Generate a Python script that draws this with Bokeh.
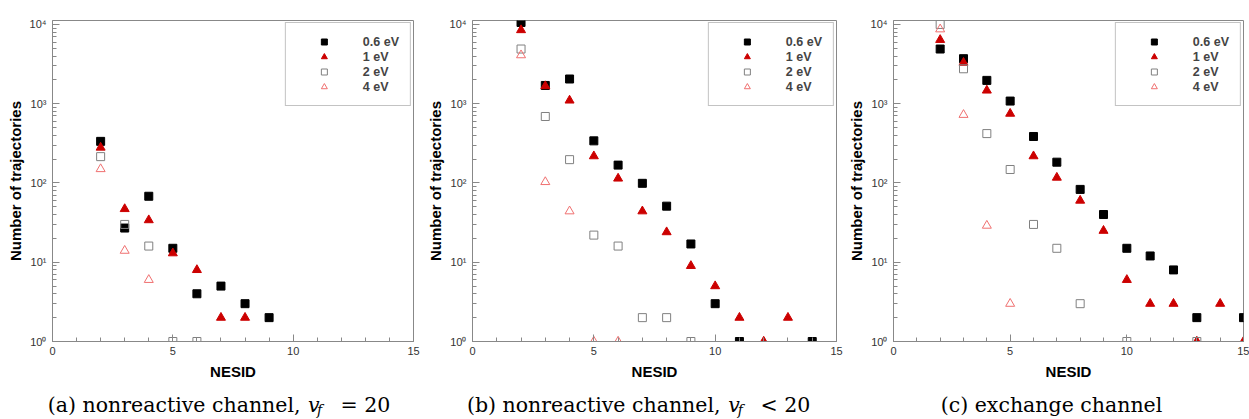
from bokeh.plotting import figure
from bokeh.layouts import row, column
from bokeh.models import (Range1d, FixedTicker, SingleIntervalTicker,
                          CustomJSTickFormatter, Label)
from bokeh.embed import file_html
from bokeh.resources import INLINE

# ---------------- data ----------------
series_labels = ["0.6 eV", "1 eV", "2 eV", "4 eV"]
y_tick_values = [1, 10, 100, 1000, 10000]
y_tick_labels = ["10\u2070", "10\u00b9", "10\u00b2", "10\u00b3", "10\u2074"]
x_label = "NESID"
y_label = "Number of trajectories"

# (a) nonreactive channel, v_f = 20
a_x_06 = [2, 3, 4, 5, 6, 7, 8, 9]
a_y_06 = [335, 27, 68, 15, 4, 5, 3, 2]
a_x_1 = [2, 3, 4, 5, 6, 7, 8]
a_y_1 = [280, 47, 34, 13, 8, 2, 2]
a_x_2 = [2, 3, 4, 5, 6]
a_y_2 = [215, 30, 16, 1, 1]
a_x_4 = [2, 3, 4]
a_y_4 = [150, 14, 6]

# (b) nonreactive channel, v_f < 20
b_x_06 = [2, 3, 4, 5, 6, 7, 8, 9, 10, 11, 14]
b_y_06 = [10600, 1700, 2050, 340, 168, 99, 51, 17, 3, 1, 1]
b_x_1 = [2, 3, 4, 5, 6, 7, 8, 9, 10, 11, 12, 13]
b_y_1 = [8500, 1670, 1100, 218, 114, 44, 24, 9, 5, 2, 1, 2]
b_x_2 = [2, 3, 4, 5, 6, 7, 8, 9]
b_y_2 = [4900, 690, 197, 22, 16, 2, 2, 1]
b_x_4 = [2, 3, 4, 5, 6]
b_y_4 = [4100, 103, 44, 1, 1]

# (c) exchange channel
c_x_06 = [2, 3, 4, 5, 6, 7, 8, 9, 10, 11, 12, 13, 15]
c_y_06 = [4900, 3700, 1970, 1080, 386, 183, 83, 40, 15, 12, 8, 2, 2]
c_x_1 = [2, 3, 4, 5, 6, 7, 8, 9, 10, 11, 12, 13, 14, 15]
c_y_1 = [6400, 3300, 1470, 750, 218, 117, 60, 25, 6, 3, 3, 1, 3, 1]
c_x_2 = [2, 3, 4, 5, 6, 7, 8, 10, 13]
c_y_2 = [10000, 2760, 420, 148, 30, 15, 3, 1, 1]
c_x_4 = [2, 3, 4, 5]
c_y_4 = [8700, 725, 29, 3]

caption_a = ["(a) nonreactive channel,", "v", "f", "= 20"]
caption_b = ["(b) nonreactive channel,", "v", "f", "< 20"]
caption_c = ["(c) exchange channel"]

# ---------------- styles ----------------
STYLES = [
    dict(marker="square", size=8, fill_color="black", line_color="black"),
    dict(marker="triangle", size=9, fill_color="#cc0000", line_color="#cc0000"),
    dict(marker="square", size=8, fill_color=None, line_color="#808080"),
    dict(marker="triangle", size=9, fill_color=None, line_color="#f07070"),
]
AXIS_GRAY = "#888888"
SANS = "Liberation Sans"
SERIF = "DejaVu Serif"
PANEL_H = 389
STRIP_H = 30

minor = [m * 10 ** k for k in range(0, 5) for m in range(2, 10)]

fmt = CustomJSTickFormatter(args=dict(vals=y_tick_values, labs=y_tick_labels), code="""
    for (let i = 0; i < vals.length; i++) {
        if (Math.abs(tick - vals[i]) < 1e-6 * vals[i]) return labs[i];
    }
    return "";
""")


def make_panel(series, width, bl, br, bt, frame_bottom):
    p = figure(width=width, height=PANEL_H, output_backend="svg", toolbar_location=None,
               x_range=Range1d(0, 15), y_range=Range1d(1, 11220), y_axis_type="log",
               min_border_left=bl, min_border_right=br, min_border_top=bt,
               min_border_bottom=PANEL_H - frame_bottom)
    p.title = None
    p.background_fill_color = "white"
    p.border_fill_color = "white"
    p.outline_line_color = AXIS_GRAY
    p.xgrid.visible = False
    p.ygrid.visible = False

    for (xs, ys), lab, st in zip(series, series_labels, STYLES):
        p.scatter(xs, ys, legend_label=lab, line_width=1, **st)

    p.xaxis.ticker = SingleIntervalTicker(interval=5, num_minor_ticks=5)
    p.yaxis.ticker = FixedTicker(ticks=y_tick_values, minor_ticks=minor)
    p.yaxis.formatter = fmt
    p.xaxis.axis_label = x_label
    p.yaxis.axis_label = y_label
    for ax in (p.xaxis, p.yaxis):
        ax.axis_line_color = AXIS_GRAY
        ax.major_tick_line_color = AXIS_GRAY
        ax.minor_tick_line_color = AXIS_GRAY
        ax.major_tick_in = 7
        ax.major_tick_out = 0
        ax.minor_tick_in = 4
        ax.minor_tick_out = 0
        ax.major_label_text_font = SANS
        ax.major_label_text_font_size = "11px"
        ax.major_label_text_color = "#333333"
        ax.axis_label_text_font = SANS
        ax.axis_label_text_font_style = "bold"
        ax.axis_label_text_font_size = "15px"
        ax.axis_label_text_color = "black"
    p.xaxis.major_label_standoff = 5
    p.xaxis.axis_label_standoff = 5
    p.yaxis.major_label_standoff = 6
    p.yaxis.axis_label_standoff = 3

    lg = p.legend[0]
    lg.location = "top_right"
    lg.margin = 2
    lg.padding = 11
    lg.spacing = 0
    lg.glyph_width = 54
    lg.glyph_height = 15
    lg.label_height = 15
    lg.label_standoff = 12
    lg.label_text_font = SANS
    lg.label_text_font_style = "bold"
    lg.label_text_font_size = "12.5px"
    lg.border_line_color = AXIS_GRAY
    lg.border_line_width = 1
    lg.background_fill_alpha = 1.0
    return p


pa = make_panel([(a_x_06, a_y_06), (a_x_1, a_y_1), (a_x_2, a_y_2), (a_x_4, a_y_4)],
                width=420, bl=52, br=7, bt=15, frame_bottom=345)
pb = make_panel([(b_x_06, b_y_06), (b_x_1, b_y_1), (b_x_2, b_y_2), (b_x_4, b_y_4)],
                width=424, bl=52, br=8, bt=16, frame_bottom=346)
pc = make_panel([(c_x_06, c_y_06), (c_x_1, c_y_1), (c_x_2, c_y_2), (c_x_4, c_y_4)],
                width=405, bl=47, br=6, bt=20, frame_bottom=341)

# caption strip below the three panels (x in page pixels, y from strip bottom)
strip = figure(width=1249, height=STRIP_H, output_backend="svg", toolbar_location=None,
               x_range=Range1d(0, 1249), y_range=Range1d(0, STRIP_H),
               x_axis_location=None, y_axis_location=None, min_border=0)
strip.title = None
strip.outline_line_color = None
strip.xgrid.visible = False
strip.ygrid.visible = False
strip.background_fill_color = "white"
strip.border_fill_color = "white"

MAIN_Y = 15   # vertical centre of the caption line, from strip bottom
SUB_Y = 10


def add_caption(parts, x_main, x_v, x_f, x_rel):
    main, v, f, rel = parts
    common = dict(text_color="black", text_baseline="middle")
    strip.add_layout(Label(x=x_main, y=MAIN_Y, text=main, text_align="right",
                           text_font=SERIF, text_font_size="20.5px", **common))
    strip.add_layout(Label(x=x_v, y=MAIN_Y, text=v, text_align="left", text_font=SERIF,
                           text_font_style="italic", text_font_size="20.5px", **common))
    strip.add_layout(Label(x=x_f, y=SUB_Y, text=f, text_align="left", text_font=SERIF,
                           text_font_style="italic", text_font_size="14px", **common))
    strip.add_layout(Label(x=x_rel, y=MAIN_Y, text=rel, text_align="left",
                           text_font=SERIF, text_font_size="20.5px", **common))


add_caption(caption_a, 300, 307.5, 316.5, 340)
add_caption(caption_b, 720, 727.7, 737.3, 760)
strip.add_layout(Label(x=1051, y=MAIN_Y, text=caption_c[0], text_align="center",
                       text_baseline="middle", text_font=SERIF,
                       text_font_size="20.5px", text_color="black"))

layout = column(row(pa, pb, pc), strip)
open("out.html", "w").write(file_html(layout, INLINE))
